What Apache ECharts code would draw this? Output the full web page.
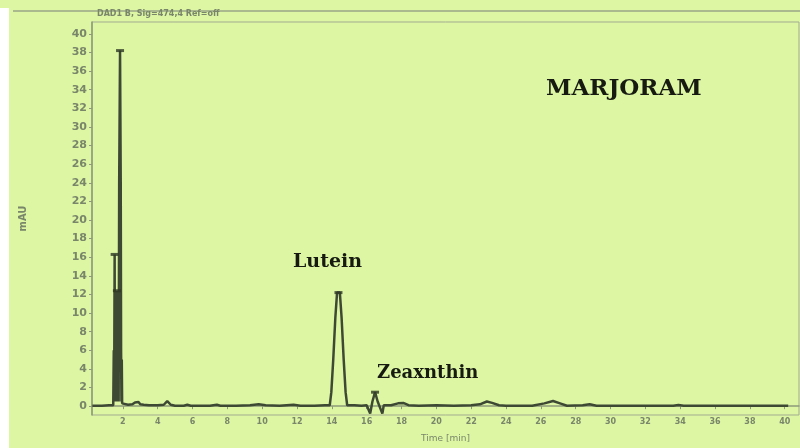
<!DOCTYPE html>
<html>
<head>
<meta charset="utf-8">
<script src="https://cdn.jsdelivr.net/npm/echarts@6/dist/echarts.min.js"></script>
<style>
  html, body { margin: 0; padding: 0; background: #dcf6a4; }
  #chart { width: 800px; height: 448px; }
</style>
</head>
<body>
<div id="chart"></div>
<script>
// Detector trace: [retention time (min), absorbance (mAU)]
const trace = [
  [0.25, 0.05], [0.8, 0.05], [1.2, 0.1], [1.45, 0.1],
  [1.48, 6], [1.5, 0.5], [1.53, 16.3], [1.55, 0.5], [1.57, 6], [1.58, 11], [1.6, 0.5],
  [1.62, 9], [1.64, 0.5], [1.66, 12.4], [1.68, 0.5], [1.7, 6], [1.72, 0.5], [1.74, 6],
  [1.76, 0.5], [1.79, 24], [1.84, 38.2], [1.88, 24], [1.9, 6], [1.92, 0.5], [1.94, 5],
  [1.96, 0.3], [2.0, 0.1],
  [2.3, 0.15], [2.55, 0.2], [2.7, 0.4], [2.8, 0.2], [2.9, 0.45], [3.0, 0.2], [3.1, 0.4],
  [3.2, 0.15], [3.5, 0.1], [4.0, 0.1], [4.35, 0.15], [4.55, 0.55], [4.75, 0.15],
  [5.0, 0.05], [5.5, 0.05], [5.7, 0.15], [5.9, 0.05], [7.0, 0.05], [7.4, 0.15], [7.6, 0.05],
  [8.5, 0.05], [9.3, 0.1], [9.8, 0.2], [10.2, 0.1], [11.0, 0.05], [11.8, 0.15], [12.2, 0.05],
  [13.0, 0.05], [13.6, 0.1],
  [13.88, 0.1], [13.97, 1.5], [14.08, 5], [14.2, 9.5], [14.3, 12.2], [14.46, 12.2],
  [14.56, 9.5], [14.68, 5], [14.79, 1.5], [14.88, 0.1],
  [15.3, 0.1], [15.7, 0.05], [16.0, 0.1],
  [16.2, -0.8], [16.33, 0.5], [16.48, 1.5], [16.63, 0.5], [16.9, -0.8], [16.98, 0.1],
  [17.4, 0.1], [17.8, 0.3], [18.1, 0.35], [18.4, 0.1], [19.0, 0.05], [20.0, 0.1],
  [21.0, 0.05], [22.0, 0.1], [22.5, 0.2], [22.9, 0.5], [23.2, 0.35], [23.6, 0.1],
  [24.0, 0.05], [25.5, 0.05], [26.2, 0.3], [26.7, 0.55], [27.1, 0.3], [27.5, 0.05],
  [28.4, 0.1], [28.8, 0.2], [29.2, 0.05], [30.0, 0.05], [33.6, 0.05], [33.9, 0.12],
  [34.2, 0.05], [40.2, 0.05]
];

// Integrator apex marks
const apexMarks = [[1.84, 38.2], [1.53, 16.3], [1.66, 12.4], [14.38, 12.2], [16.48, 1.5]];

// Tick positions
const timeTicks = [2, 4, 6, 8, 10, 12, 14, 16, 18, 20, 22, 24, 26, 28, 30, 32, 34, 36, 38, 40];
const mauTicks = [0, 2, 4, 6, 8, 10, 12, 14, 16, 18, 20, 22, 24, 26, 28, 30, 32, 34, 36, 38, 40];

const sampleName = 'MARJORAM';
const peakNames = ['Lutein', 'Zeaxnthin'];
const signalTitle = 'DAD1 B, Sig=474,4 Ref=off';

const axisGrey = '#8e9a7a';
const labelGrey = '#7a866a';
const traceColor = '#3e4934';
const serif = '"DejaVu Serif", serif';
const sans = '"DejaVu Sans", sans-serif';

const chart = echarts.init(document.getElementById('chart'));
chart.setOption({
  backgroundColor: '#dcf6a4',
  animation: false,
  grid: {
    left: 92, right: 1, top: 22, bottom: 26,
    show: true, borderColor: '#a3ad8f', borderWidth: 1, backgroundColor: 'transparent'
  },
  xAxis: {
    type: 'value', min: 0.23, max: 40.82,
    name: 'Time [min]', nameLocation: 'middle', nameGap: 19,
    nameTextStyle: { color: labelGrey, fontSize: 9, fontFamily: sans },
    axisLine: { show: true, lineStyle: { color: axisGrey, width: 1.5 } },
    axisTick: { show: true, customValues: timeTicks, length: 3, lineStyle: { color: axisGrey } },
    axisLabel: { customValues: timeTicks, color: labelGrey, fontSize: 8, fontWeight: 'bold', fontFamily: sans, margin: 3 },
    splitLine: { show: false }
  },
  yAxis: {
    type: 'value', min: -0.95, max: 41.27,
    name: 'mAU', nameLocation: 'middle', nameGap: 64, nameRotate: 90,
    nameTextStyle: { color: labelGrey, fontSize: 10, fontWeight: 'bold', fontFamily: sans },
    axisLine: { show: true, lineStyle: { color: axisGrey, width: 1.5 } },
    axisTick: { show: true, customValues: mauTicks, length: 3, lineStyle: { color: axisGrey } },
    axisLabel: { customValues: mauTicks, color: labelGrey, fontSize: 11, fontWeight: 'bold', fontFamily: sans, margin: 5 },
    splitLine: { show: false }
  },
  series: [
    {
      type: 'line', data: trace, showSymbol: false, smooth: false,
      lineStyle: { color: traceColor, width: 2.5 },
      z: 3
    },
    {
      type: 'scatter', data: apexMarks, symbol: 'rect', symbolSize: [8, 3],
      itemStyle: { color: '#2e3824' }, z: 4
    }
  ],
  graphic: [
    { type: 'rect', left: 0, top: 8, shape: { width: 9, height: 440 }, style: { fill: '#ffffff' }, silent: true },
    { type: 'line', shape: { x1: 13, y1: 11, x2: 800, y2: 11 }, style: { stroke: '#9ba687', lineWidth: 1.5 }, silent: true },
    { type: 'text', left: 97, top: 10, style: { text: signalTitle, fill: labelGrey, font: 'bold 8px ' + sans } },
    { type: 'text', left: 546, top: 78, style: { text: sampleName, fill: '#161a10', font: 'bold 23px ' + serif } },
    { type: 'text', left: 293, top: 253, style: { text: peakNames[0], fill: '#161a10', font: 'bold 19px ' + serif } },
    { type: 'text', left: 377, top: 364, style: { text: peakNames[1], fill: '#161a10', font: 'bold 18px ' + serif } }
  ]
});
</script>
</body>
</html>
